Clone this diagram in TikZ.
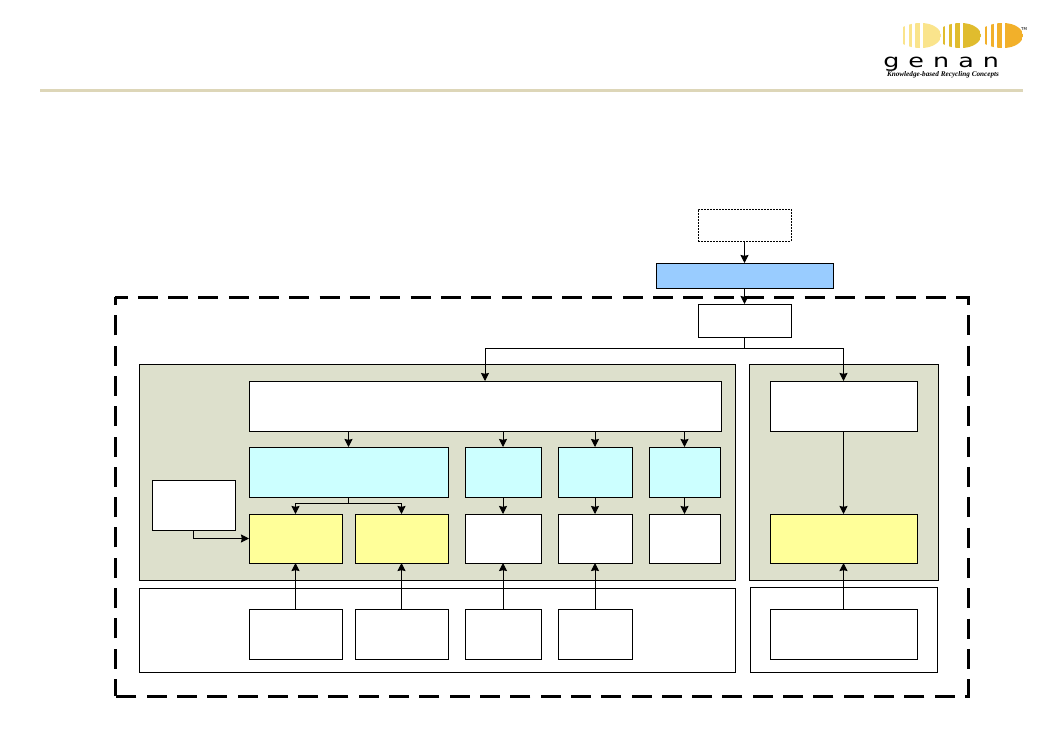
\documentclass[tikz,border=0pt]{standalone}
\usepackage{xcolor}
\usepackage{fontspec}
\setsansfont{DejaVu Sans}
\setmainfont{Liberation Serif}
\usetikzlibrary{arrows.meta}
\definecolor{panel}{RGB}{221, 224, 204}
\definecolor{skyblue}{RGB}{153, 204, 255}
\definecolor{paleblue}{RGB}{204, 255, 255}
\definecolor{paleyellow}{RGB}{255, 255, 153}
\definecolor{rulecolor}{RGB}{221, 214, 184}
\definecolor{logoa}{RGB}{250, 228, 140}
\definecolor{logob}{RGB}{224, 188, 46}
\definecolor{logoc}{RGB}{242, 176, 42}
\tikzset{
  plainbox/.style={draw=black, line width=0.75pt, fill=white, inner sep=0pt, outer sep=0pt, anchor=north west},
  bluebox/.style={plainbox, fill=skyblue},
  cyanbox/.style={plainbox, fill=paleblue},
  yellowbox/.style={plainbox, fill=paleyellow},
  panelbox/.style={plainbox, fill=panel},
  dotbox/.style={plainbox, dash pattern=on 1.5pt off 0.75pt},
  flow/.style={->, line width=0.75pt},
  boundary/.style={line width=2.25pt, dash pattern=on 15pt off 7.73pt}
}
% style, name, left, top, right, bottom
\newcommand{\blockat}[6]{\node[#1, minimum width={(#5-#3)*0.75pt}, minimum height={(#6-#4)*0.75pt}] (#2) at (#3,#4) {};}
% one striped lens of the logo: colour, left edge
\newcommand{\lensat}[2]{%
  \begin{scope}
    \clip (#2,27) .. controls (#2+6,24) and (#2+12,23) .. (#2+18,23)
      .. controls (#2+30,23) and (#2+38,29) .. (#2+38,35.5)
      .. controls (#2+38,42) and (#2+30,48) .. (#2+18,48)
      .. controls (#2+12,48) and (#2+6,47) .. (#2,44) -- cycle;
    \foreach \xa/\xb in {0/2, 6/9, 12/17, 20/38}
      \fill[#1] (#2+\xa,20) rectangle (#2+\xb,50);
  \end{scope}}
\begin{document}
\begin{tikzpicture}[x=0.75pt, y=-0.75pt, >={Stealth[length=6pt,width=6pt,inset=0.6pt]}]
  \useasboundingbox (0,0) rectangle (1063,750);
  \fill[white] (0,0) rectangle (1063,750);

  % Header rule and logo
  \fill[rulecolor] (40,88.5) rectangle (1023,91.5);
  \lensat{logoa}{903}
  \lensat{logob}{943}
  \lensat{logoc}{985}
  \node[font=\sffamily\fontsize{3pt}{3pt}\selectfont, inner sep=0pt] (tm) at (1024,29) {TM};
  \node[font=\sffamily\fontsize{14pt}{14pt}\selectfont, inner sep=0pt, anchor=base west] (brand) at (883,67.5) {\scalebox{1.36}[1]{g\hspace{5pt}e\hspace{5pt}n\hspace{5pt}a\hspace{5pt}n}};
  \node[font=\rmfamily\bfseries\itshape\fontsize{5.4pt}{6pt}\selectfont, inner sep=0pt] (tagline) at (943,74.5) {Knowledge-based Recycling Concepts};

  % Outer boundary
  \draw[boundary, dash phase=5.6pt] (115,297) -- (968,297) -- (968,696) -- (115,696);
  \draw[boundary, dash phase=2.25pt] (115,696) -- (115,297);

  % Panels
  \blockat{panelbox}{panelL}{139}{364}{735}{580}
  \blockat{panelbox}{panelR}{749}{364}{938}{580}
  \blockat{plainbox}{baseL}{139}{588}{735}{672}
  \blockat{plainbox}{baseR}{750}{587}{937}{672}

  % Top chain
  \blockat{dotbox}{source}{698}{209}{791}{241}
  \blockat{bluebox}{gate}{656}{263}{833}{288}
  \blockat{plainbox}{entry}{698}{304}{791}{337}

  % Left panel
  \blockat{plainbox}{head}{249}{381}{721}{431}
  \blockat{cyanbox}{cyanA}{249}{447}{448}{497}
  \blockat{cyanbox}{cyanB}{465}{447}{541}{497}
  \blockat{cyanbox}{cyanC}{558}{447}{632}{497}
  \blockat{cyanbox}{cyanD}{649}{447}{720}{497}
  \blockat{yellowbox}{yellowA}{249}{514}{342}{563}
  \blockat{yellowbox}{yellowB}{355}{514}{448}{563}
  \blockat{plainbox}{whiteB}{465}{514}{541}{563}
  \blockat{plainbox}{whiteC}{558}{514}{632}{563}
  \blockat{plainbox}{whiteD}{649}{514}{720}{563}
  \blockat{plainbox}{side}{152}{480}{235}{530}

  % Right panel
  \blockat{plainbox}{headR}{770}{381}{917}{431}
  \blockat{yellowbox}{yellowR}{770}{514}{917}{563}

  % Bottom row
  \blockat{plainbox}{baseA}{249}{609}{342}{659}
  \blockat{plainbox}{baseB}{355}{609}{448}{659}
  \blockat{plainbox}{baseC}{465}{609}{541}{659}
  \blockat{plainbox}{baseD}{558}{609}{632}{659}
  \blockat{plainbox}{baseE}{770}{609}{917}{659}

  % Connectors
  \coordinate (split) at (744.5,348);
  \coordinate (splitA) at (348.5,503);
  \draw[flow] (source.south) -- (gate.north);
  \draw[flow] (gate.south) -- (entry.north);
  \draw[flow] (entry.south) -- (split) -| (head.north);
  \draw[flow] (split) -| (headR.north);
  \foreach \boxname in {cyanA,cyanB,cyanC,cyanD}
    \draw[flow] (\boxname.north |- head.south) -- (\boxname.north);
  \draw[flow] (cyanA.south) -- (splitA) -| (yellowA.north);
  \draw[flow] (splitA) -| (yellowB.north);
  \draw[flow] (cyanB.south) -- (whiteB.north);
  \draw[flow] (cyanC.south) -- (whiteC.north);
  \draw[flow] (cyanD.south) -- (whiteD.north);
  \draw[flow] (side.south) |- (yellowA.west);
  \draw[flow] (baseA.north) -- (yellowA.south);
  \draw[flow] (baseB.north) -- (yellowB.south);
  \draw[flow] (baseC.north) -- (whiteB.south);
  \draw[flow] (baseD.north) -- (whiteC.south);
  \draw[flow] (headR.south) -- (yellowR.north);
  \draw[flow] (baseE.north) -- (yellowR.south);
\end{tikzpicture}
\end{document}
